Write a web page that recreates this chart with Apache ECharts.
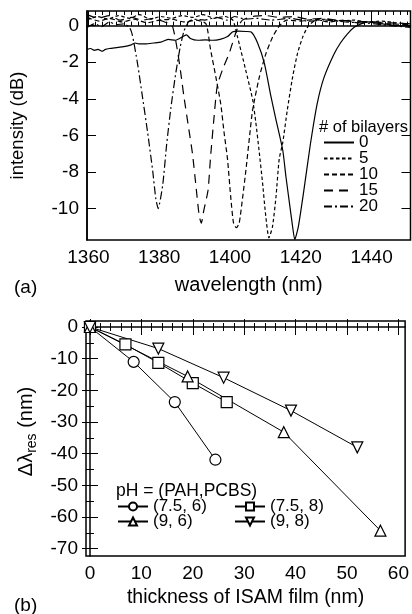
<!DOCTYPE html>
<html>
<head>
<meta charset="utf-8">
<script src="https://cdn.jsdelivr.net/npm/echarts@6/dist/echarts.min.js"></script>
<style>
  html, body { margin: 0; padding: 0; background: #fff; }
  #chart { width: 412px; height: 614px; }
</style>
</head>
<body>
<div id="chart"></div>
<script>
// ---- panel (a): transmission spectra, [wavelength nm, intensity dB] ----
const spec0 = [
  [1359.6,-1.3],[1360.6,-1.25],[1361.7,-1.35],[1362.7,-1.3],[1363.8,-1.4],[1364.8,-1.3],[1365.9,-1.25],
  [1368,-1.2],[1370,-1.15],[1372.1,-1.05],[1373.2,-0.95],[1374.2,-1.0],[1376.3,-1.0],[1378.4,-0.95],
  [1380.5,-0.9],[1382.5,-0.75],[1384.6,-0.8],[1386.7,-0.6],[1387.7,-0.5],[1388.8,-0.7],[1390.9,-0.8],
  [1393,-0.78],[1395.1,-0.8],[1397.2,-0.75],[1399.3,-0.6],[1400.8,-0.33],[1402.4,-0.3],[1404.5,-0.32],
  [1406,-0.35],[1407.8,-0.95],[1409.7,-2.05],[1411.6,-3.9],[1413,-5.15],[1414.9,-6.8],[1415.8,-8.25],
  [1416.8,-9.7],[1417.7,-11.0],[1418.3,-11.7],[1419.3,-11.0],[1420.8,-9.1],[1422.7,-6.5],[1424.6,-4.3],
  [1426.5,-2.87],[1429.3,-1.59],[1431.2,-0.95],[1433.2,-0.45],[1435,-0.1],[1437.8,0.15],[1439,0.2],
  [1441,0.15],[1443,0.1],[1445.2,0.05],[1447.3,0.0],[1449.4,-0.02],[1451,-0.05]
];
const spec5 = [
  [1359.6,0.3],[1362.5,0.5],[1365.5,0.35],[1368.5,0.55],[1371.5,0.4],[1374.5,0.6],[1377.5,0.35],
  [1380.5,0.5],[1383.5,0.4],[1386.5,0.55],[1389.5,0.45],[1392.5,0.6],[1395.5,0.4],[1398.5,0.5],
  [1400.8,0.3],[1402.1,-0.6],[1404.4,-2.4],[1406.4,-4.05],[1407.3,-5.3],[1408.2,-6.8],[1409.2,-8.6],
  [1410.1,-10.4],[1411,-11.6],[1412,-11.0],[1413,-9.35],[1413.9,-7.3],[1414.9,-6.4],[1416.2,-4.6],
  [1417.7,-2.8],[1419.1,-1.5],[1420.6,-0.6],[1422.2,0.0],[1424.3,0.3],[1427,0.35],[1431,0.25],
  [1435,0.3],[1439,0.2],[1443,0.25],[1447,0.15],[1451,0.1]
];
const spec10 = [
  [1359.6,0.45],[1363,0.25],[1366,0.4],[1369.5,0.2],[1373,0.35],[1376.5,0.15],[1380,0.3],
  [1383.5,0.35],[1387,0.2],[1390.5,0.3],[1393.2,0.1],[1394.5,-1.3],[1396,-2.8],[1397.4,-4.3],
  [1398.3,-5.8],[1399.3,-7.3],[1400.2,-9.35],[1401,-10.8],[1401.8,-11.05],[1402.6,-10.8],
  [1403.6,-9.35],[1404.5,-7.9],[1405.5,-6.1],[1406.4,-4.6],[1408.3,-2.8],[1410.2,-1.5],
  [1412.1,-0.6],[1414,0.0],[1416,0.3],[1420,0.25],[1424,0.35],[1428,0.2],[1432,0.3],[1436,0.15],
  [1440,0.2],[1445,0.1],[1451,0.05]
];
const spec15 = [
  [1359.6,0.6],[1362.7,0.4],[1365.9,0.55],[1369,0.3],[1372.1,0.45],[1375.2,0.3],[1378.4,0.4],
  [1381.5,0.2],[1383.6,0.05],[1385.1,-1.3],[1386.1,-2.6],[1387,-3.9],[1388.4,-5.7],[1389.4,-7.0],
  [1390.4,-8.8],[1391.3,-10.4],[1391.9,-10.8],[1392.6,-10.1],[1393.8,-9.0],[1394.5,-7.2],
  [1395.5,-5.0],[1396.4,-3.3],[1397.9,-2.4],[1399.8,-1.5],[1402,-0.2],[1403.5,0.3],[1406.5,0.5],
  [1410,0.55],[1414,0.45],[1418,0.5],[1422,0.35],[1426,0.4],[1430,0.3],[1435,0.25],[1440,0.2],
  [1445,0.15],[1451,0.1]
];
const spec20 = [
  [1359.6,-0.1],[1361.7,0.1],[1363.8,-0.05],[1365.9,0.2],[1367.9,0.05],[1370,0.1],[1371.6,-0.1],
  [1372.4,-0.5],[1373.9,-2.1],[1375.2,-3.8],[1376.7,-5.8],[1378.2,-8.0],[1379,-9.4],[1379.7,-10.0],
  [1381,-8.7],[1382.1,-6.5],[1383.3,-4.5],[1384.6,-2.7],[1385.9,-1.2],[1387,-0.3],[1388.3,0.2],
  [1389.8,0.35],[1392.9,0.3],[1396.1,0.45],[1399.2,0.3],[1401.3,0.5],[1404.4,0.35],[1407.5,0.4],
  [1411.7,0.3],[1416.9,0.4],[1422.2,0.25],[1427.4,0.3],[1432.6,0.2],[1437.8,0.15],[1443,0.05],
  [1451,-0.1]
];
const bilayerNames = ['0', '5', '10', '15', '20'];

// ---- panel (b): resonance shift vs film thickness ----
const thick_75_6 = [0, 8.5, 16.5, 24.4];
const shift_75_6 = [0, -11, -23.7, -41.9];
const thick_75_8 = [0, 6.9, 13.3, 20, 26.6];
const shift_75_8 = [0, -5.5, -11.3, -17.7, -23.7];
const thick_9_6 = [0, 19, 37.7, 56.5];
const shift_9_6 = [0, -15.6, -33.2, -64.3];
const thick_9_8 = [0, 13.3, 26, 39.1, 52];
const shift_9_8 = [0, -6.8, -16, -26.4, -38];

// ---- tick values ----
const wavelengthTicks = [1360, 1380, 1400, 1420, 1440];
const intensityTicks = [0, -2, -4, -6, -8, -10];
const thicknessTicks = [0, 10, 20, 30, 40, 50, 60];
const shiftTicks = [0, -10, -20, -30, -40, -50, -60, -70];

const wavelengthMinor = [];
for (let v = 1362; v <= 1450; v += 2) if (v % 20 !== 0) wavelengthMinor.push(v);
const thicknessMinor = [];
for (let v = 2; v <= 60; v += 2) if (v % 10 !== 0) thicknessMinor.push(v);
const shiftMinor = [];
for (let v = -5; v >= -70; v -= 10) shiftMinor.push(v);

const FONT = 'Liberation Sans';
const BLACK = '#000';

const chart = echarts.init(document.getElementById('chart'));

// tick-only axis (mirror side / minor ticks)
function tickAxis(gridIndex, position, min, max, values, len) {
  return {
    type: 'value', gridIndex, position, min, max,
    axisLine: { show: false },
    axisTick: { show: true, inside: true, length: len, customValues: values, lineStyle: { color: BLACK, width: 1 } },
    axisLabel: { show: false },
    splitLine: { show: false }
  };
}

const xa = [1359.6, 1451];
const ya = [-11.72, 0.8];
const xb = [-0.77, 61.3];
const yb = [-72.3, 1.9];

const dashes = {
  '0': 'solid',
  '5': [3.5, 2.5],
  '10': [5, 3],
  '15': [9, 6],
  '20': [8, 3, 2, 3]
};
const specs = [spec0, spec5, spec10, spec15, spec20];

const seriesA = bilayerNames.map((n, i) => ({
  name: n,
  type: 'line',
  xAxisIndex: 0,
  yAxisIndex: 0,
  data: specs[i],
  symbol: 'none',
  smooth: 0.2,
  lineStyle: { color: BLACK, width: 1.2, type: dashes[n] },
  itemStyle: { color: BLACK }
}));

function ptSeries(name, xs, ys, symbol, rotate) {
  return {
    name,
    type: 'line',
    xAxisIndex: 4,
    yAxisIndex: 2,
    data: xs.map((x, i) => [x, ys[i]]),
    symbol,
    symbolSize: 11,
    symbolRotate: rotate || 0,
    showAllSymbol: true,
    lineStyle: { color: BLACK, width: 1 },
    itemStyle: { color: '#fff', borderColor: BLACK, borderWidth: 1.2 }
  };
}

const plainLabel = v => String(v);

const option = {
  animation: false,
  backgroundColor: '#fff',
  textStyle: { fontFamily: FONT, color: BLACK },
  title: [
    { text: '(a)', left: 9, top: 273, textStyle: { fontFamily: FONT, fontSize: 19, fontWeight: 'normal', color: BLACK } },
    { text: '(b)', left: 9, top: 591, textStyle: { fontFamily: FONT, fontSize: 19, fontWeight: 'normal', color: BLACK } },
    { text: '# of bilayers', left: 314, top: 114, textStyle: { fontFamily: FONT, fontSize: 16.5, fontWeight: 'normal', color: BLACK } },
    { text: 'pH = (PAH,PCBS)', left: 111, top: 477, textStyle: { fontFamily: FONT, fontSize: 17.5, fontWeight: 'normal', color: BLACK } }
  ],
  legend: [
    {
      data: bilayerNames, orient: 'vertical', left: 318, top: 129,
      itemWidth: 30, itemHeight: 8, itemGap: -1,
      itemStyle: { color: 'rgba(0,0,0,0)', borderWidth: 0 },
      textStyle: { fontFamily: FONT, fontSize: 17, color: BLACK, lineHeight: 15.5 },
      selectedMode: false
    },
    {
      data: ['(7.5, 6)', '(9, 6)'], orient: 'vertical', left: 112, top: 493,
      itemWidth: 30, itemHeight: 10, itemGap: -2,
      textStyle: { fontFamily: FONT, fontSize: 17, color: BLACK, lineHeight: 14.3 },
      selectedMode: false
    },
    {
      data: ['(7.5, 8)', '(9, 8)'], orient: 'vertical', left: 229, top: 493,
      itemWidth: 30, itemHeight: 10, itemGap: -2,
      textStyle: { fontFamily: FONT, fontSize: 17, color: BLACK, lineHeight: 14.3 },
      selectedMode: false
    }
  ],
  grid: [
    { left: 86, top: 11, width: 324.5, height: 229, show: true, borderColor: BLACK, borderWidth: 1.5, backgroundColor: 'transparent' },
    { left: 86, top: 321, width: 323.5, height: 235, show: true, borderColor: BLACK, borderWidth: 1.5, backgroundColor: 'transparent' }
  ],
  xAxis: [
    // 0: panel a bottom, major ticks + labels
    {
      type: 'value', gridIndex: 0, position: 'bottom', min: xa[0], max: xa[1],
      axisLine: { show: true, lineStyle: { color: BLACK, width: 1.5 } },
      axisTick: { show: true, inside: true, length: 8, customValues: wavelengthTicks, lineStyle: { color: BLACK } },
      axisLabel: { customValues: wavelengthTicks, formatter: plainLabel, fontSize: 19, fontFamily: FONT, color: BLACK, margin: 8 },
      splitLine: { show: false },
      name: 'wavelength (nm)', nameLocation: 'middle', nameGap: 35,
      nameTextStyle: { fontSize: 20, fontFamily: FONT, color: BLACK }
    },
    tickAxis(0, 'bottom', xa[0], xa[1], wavelengthMinor, 4),
    tickAxis(0, 'top', xa[0], xa[1], wavelengthTicks, 8),
    tickAxis(0, 'top', xa[0], xa[1], wavelengthMinor, 4),
    // 4: panel b bottom, major ticks + labels
    {
      type: 'value', gridIndex: 1, position: 'bottom', min: xb[0], max: xb[1],
      axisLine: { show: true, lineStyle: { color: BLACK, width: 1.5 } },
      axisTick: { show: true, inside: true, length: 8, customValues: thicknessTicks, lineStyle: { color: BLACK } },
      axisLabel: { customValues: thicknessTicks, formatter: plainLabel, fontSize: 19, fontFamily: FONT, color: BLACK, margin: 8 },
      splitLine: { show: false },
      name: 'thickness of ISAM film (nm)', nameLocation: 'middle', nameGap: 32,
      nameTextStyle: { fontSize: 19.5, fontFamily: FONT, color: BLACK }
    },
    tickAxis(1, 'bottom', xb[0], xb[1], thicknessMinor, 4),
    tickAxis(1, 'top', xb[0], xb[1], thicknessTicks, 8),
    tickAxis(1, 'top', xb[0], xb[1], thicknessMinor, 4)
  ],
  yAxis: [
    // 0: panel a left
    {
      type: 'value', gridIndex: 0, position: 'left', min: ya[0], max: ya[1],
      axisLine: { show: true, lineStyle: { color: BLACK, width: 1.5 } },
      axisTick: { show: true, inside: true, length: 9, customValues: intensityTicks, lineStyle: { color: BLACK } },
      axisLabel: { customValues: intensityTicks, formatter: plainLabel, fontSize: 19, fontFamily: FONT, color: BLACK, margin: 8 },
      splitLine: { show: false },
      name: 'intensity (dB)', nameLocation: 'middle', nameGap: 60, nameRotate: 90,
      nameTextStyle: { fontSize: 18.5, fontFamily: FONT, color: BLACK }
    },
    tickAxis(0, 'right', ya[0], ya[1], intensityTicks, 9),
    // 2: panel b left
    {
      type: 'value', gridIndex: 1, position: 'left', min: yb[0], max: yb[1],
      axisLine: { show: true, lineStyle: { color: BLACK, width: 1.5 } },
      axisTick: { show: true, inside: true, length: 8, customValues: shiftTicks, lineStyle: { color: BLACK } },
      axisLabel: { customValues: shiftTicks, formatter: plainLabel, fontSize: 19, fontFamily: FONT, color: BLACK, margin: 8 },
      splitLine: { show: false },
      name: '{a|Δλ}{s|res}{a| (nm)}', nameLocation: 'middle', nameGap: 44, nameRotate: 90,
      nameTextStyle: {
        color: BLACK,
        padding: [0, 0, 0, 14],
        rich: {
          a: { fontSize: 20, fontFamily: FONT, color: BLACK },
          s: { fontSize: 14, fontFamily: FONT, color: BLACK, padding: [12, 0, 0, 0] }
        }
      }
    },
    tickAxis(1, 'left', yb[0], yb[1], shiftMinor, 4),
    tickAxis(1, 'right', yb[0], yb[1], shiftTicks, 8),
    tickAxis(1, 'right', yb[0], yb[1], shiftMinor, 4)
  ],
  series: seriesA.concat([
    ptSeries('(7.5, 6)', thick_75_6, shift_75_6, 'circle'),
    ptSeries('(7.5, 8)', thick_75_8, shift_75_8, 'rect'),
    ptSeries('(9, 6)', thick_9_6, shift_9_6, 'triangle'),
    ptSeries('(9, 8)', thick_9_8, shift_9_8, 'triangle', 180)
  ])
};

chart.setOption(option);
</script>
</body>
</html>
